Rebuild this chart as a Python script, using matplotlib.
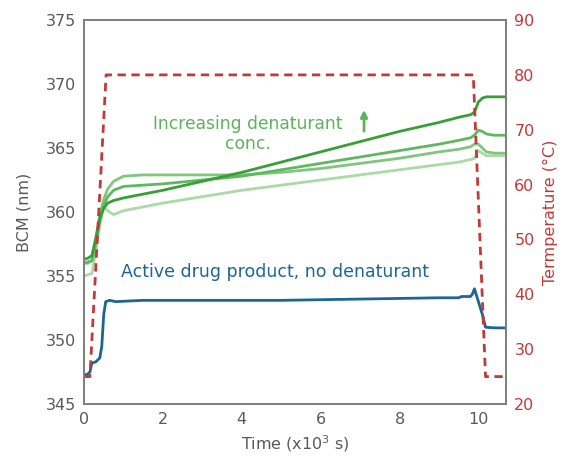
import numpy as np
import matplotlib
matplotlib.use("Agg")
import matplotlib.pyplot as plt

# time in x10^3 s, BCM in nm, temperature in C
t_temp = [0, 0.15, 0.56, 9.87, 10.18, 10.7]
temp = [25, 25, 80, 80, 25, 25]

t_blue = [0, 0.08, 0.15, 0.2, 0.3, 0.4, 0.45, 0.5, 0.55, 0.65, 0.8, 1.5, 3, 5, 7, 9, 9.5, 9.57, 9.8, 9.85, 9.9, 10.0, 10.1, 10.18, 10.4, 10.7]
bcm_blue = [347.3, 347.3, 347.5, 348.2, 348.3, 348.6, 349.5, 352.0, 353.0, 353.1, 353.0, 353.1, 353.1, 353.1, 353.2, 353.3, 353.3, 353.4, 353.4, 353.6, 354.0, 353.0, 352.0, 351.0, 350.95, 350.95]

t_green = [0, 0.1, 0.2, 0.3, 0.4, 0.5, 0.6, 0.75, 1.0, 1.5, 2, 3, 4, 5, 6, 7, 8, 9, 9.5, 9.8, 9.9, 10.0, 10.1, 10.2, 10.4, 10.7]
bcm_g1 = [356.3, 356.4, 356.6, 358.0, 359.5, 360.3, 360.7, 360.9, 361.1, 361.4, 361.7, 362.4, 363.1, 363.9, 364.7, 365.5, 366.3, 367.0, 367.4, 367.6, 367.8, 368.6, 368.9, 369.0, 369.0, 369.0]
bcm_g2 = [356.0, 356.1, 356.2, 357.5, 359.3, 360.5, 361.2, 361.7, 362.0, 362.1, 362.2, 362.5, 362.8, 363.3, 363.8, 364.3, 364.8, 365.3, 365.6, 365.8, 366.0, 366.4, 366.3, 366.1, 366.0, 366.0]
bcm_g3 = [356.0, 356.0, 356.2, 357.8, 359.8, 361.0, 361.8, 362.4, 362.8, 362.9, 362.9, 362.9, 362.9, 363.1, 363.4, 363.8, 364.2, 364.7, 364.9, 365.1, 365.3, 365.3, 365.0, 364.7, 364.6, 364.6]
bcm_g4 = [355.0, 355.1, 355.2, 357.0, 359.0, 360.4, 360.1, 359.8, 360.1, 360.4, 360.7, 361.2, 361.7, 362.1, 362.5, 362.9, 363.3, 363.7, 363.9, 364.1, 364.2, 364.8, 364.6, 364.4, 364.4, 364.4]

greens = ["#36a036", "#5fb85f", "#7fc67f", "#acd9a8"]
gray = "#595959"
red = "#c0393b"
blue = "#1c6690"

plt.rcParams["font.family"] = ["DejaVu Sans"]

fig = plt.figure(figsize=(5.65, 4.66), dpi=100)
ax = fig.add_axes([0.1487, 0.133, 0.7469, 0.824])

for vals, c in zip([bcm_g4, bcm_g3, bcm_g2, bcm_g1], greens[::-1]):
    ax.plot(t_green, vals, color=c, lw=2)
ax.plot(t_blue, bcm_blue, color=blue, lw=2)

ax.set_xlim(0, 10.7)
ax.set_ylim(345, 375)
ax.set_xticks([0, 2, 4, 6, 8, 10])
ax.set_yticks(np.arange(345, 376, 5))
ax.tick_params(length=0, labelsize=11.5, colors=gray, pad=6)
ax.set_xlabel("Time (x10$^3$ s)", fontsize=11.5, color=gray, labelpad=4)
ax.set_ylabel("BCM (nm)", fontsize=11.5, color=gray, labelpad=10)

ax2 = ax.twinx()
ax2.plot(t_temp, temp, color=red, lw=2, ls=(0, (3, 2)))
ax2.set_ylim(20, 90)
ax2.set_yticks(np.arange(20, 91, 10))
ax2.tick_params(length=0, labelsize=11.5, colors=red, pad=6)
ax2.set_ylabel("Termperature (°C)", fontsize=11.5, color=red, labelpad=6)

for a in (ax, ax2):
    for s in a.spines.values():
        s.set_color("#808080")
        s.set_linewidth(1.3)

ax.text(4.15, 366.1, "Increasing denaturant\nconc.", color="#5cb35c", fontsize=12.3,
        ha="center", va="center", linespacing=1.15)
ax.annotate("", xy=(7.1, 368.2), xytext=(7.1, 366.1),
            arrowprops=dict(arrowstyle="-|>", color="#5cb35c", lw=2, mutation_scale=10))
ax.text(4.85, 355.3, "Active drug product, no denaturant", color=blue, fontsize=12.5,
        ha="center", va="center")

fig.savefig("out.png", dpi=100)
